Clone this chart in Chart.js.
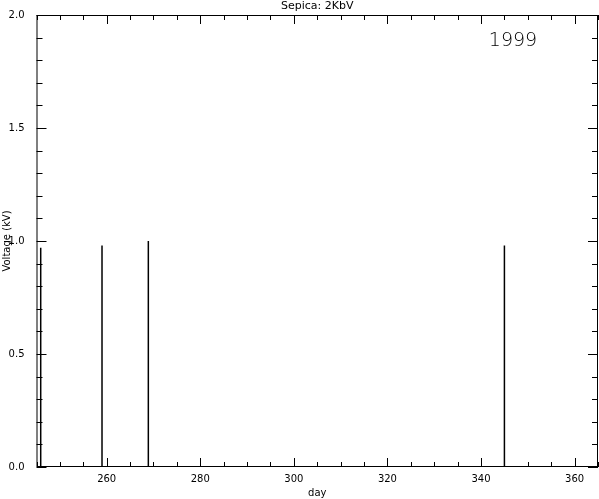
<!DOCTYPE html>
<html>
<head>
<meta charset="utf-8">
<script src="https://cdn.jsdelivr.net/npm/chart.js@4"></script>
<style>
  body { margin: 0; background: #fff; }
  #wrap { width: 599px; height: 499px; }
</style>
</head>
<body>
<div id="wrap"><canvas id="voltPlot" width="599" height="499"></canvas></div>
<script>
// spikes
const days = [245.9, 259.0, 268.9, 345.0];
const volts = [0.97, 0.98, 1.0, 0.98];
const xTicks = [260, 280, 300, 320, 340, 360];
const yTicks = [0.0, 0.5, 1.0, 1.5, 2.0];

const pts = [];
days.forEach((d, i) => {
    pts.push({ x: d, y: 0 });
    pts.push({ x: d, y: volts[i] });
    pts.push({ x: d, y: null });
});

// IDL-style box with inward ticks, title and year label
const boxPlugin = {
    id: "idlBox",
    afterDraw(chart) {
        const c = chart.ctx;
        const a = chart.chartArea;
        const xs = chart.scales.x, ys = chart.scales.y;
        c.save();
        c.strokeStyle = "#000";
        c.lineWidth = 1;
        c.strokeRect(a.left + 0.5, a.top + 0.5, a.right - a.left - 1, a.bottom - a.top - 1);
        c.beginPath();
        for (let v = 245; v <= 365; v += 5) {
            const px = Math.round(xs.getPixelForValue(v)) + 0.5;
            const len = v % 20 === 0 ? 9 : 5;
            c.moveTo(px, a.bottom); c.lineTo(px, a.bottom - len);
            c.moveTo(px, a.top); c.lineTo(px, a.top + len);
        }
        for (let k = 0; k <= 20; k++) {
            const v = k / 10;
            const py = Math.round(ys.getPixelForValue(v)) + 0.5;
            const len = k % 5 === 0 ? 10 : 6;
            c.moveTo(a.left, py); c.lineTo(a.left + len, py);
            c.moveTo(a.right, py); c.lineTo(a.right - len, py);
        }
        c.stroke();

        c.fillStyle = "#000";
        c.textAlign = "center";
        c.textBaseline = "middle";
        c.font = "11px 'DejaVu Sans'";
        c.fillText("Sepica: 2KbV", (a.left + a.right) / 2, 6);
        c.font = "10px 'DejaVu Sans'";
        c.fillText("day", (a.left + a.right) / 2, 493);
        c.save();
        c.translate(7, (a.top + a.bottom) / 2);
        c.rotate(-Math.PI / 2);
        c.fillText("Voltage (kV)", 0, 0);
        c.restore();
        c.font = "200 19px 'DejaVu Sans'";
        c.fillText("1999", 513, 41);
        c.restore();
    }
};

new Chart(document.getElementById("voltPlot").getContext("2d"), {
    type: "line",
    data: {
        datasets: [{
            data: pts,
            borderColor: "#000",
            borderWidth: 1.5,
            pointRadius: 0,
            spanGaps: false,
            tension: 0
        }]
    },
    options: {
        responsive: false,
        animation: false,
        layout: { padding: { top: 15, right: 1, left: 0, bottom: 0 } },
        plugins: { legend: { display: false }, tooltip: { enabled: false } },
        scales: {
            x: {
                type: "linear",
                min: 245,
                max: 365,
                afterFit(s) { s.height = 32; },
                afterBuildTicks(s) { s.ticks = xTicks.map(v => ({ value: v })); },
                grid: { display: false },
                border: { display: false },
                ticks: { color: "#000", padding: -2, maxRotation: 0, font: { family: "DejaVu Sans", size: 10 } }
            },
            y: {
                min: 0,
                max: 2,
                afterFit(s) { s.width = 36.5; },
                afterBuildTicks(s) { s.ticks = yTicks.map(v => ({ value: v })); },
                grid: { display: false },
                border: { display: false },
                ticks: {
                    color: "#000",
                    padding: 4,
                    font: { family: "DejaVu Sans", size: 10 },
                    callback: v => v.toFixed(1)
                }
            }
        }
    },
    plugins: [boxPlugin]
});
</script>
</body>
</html>
